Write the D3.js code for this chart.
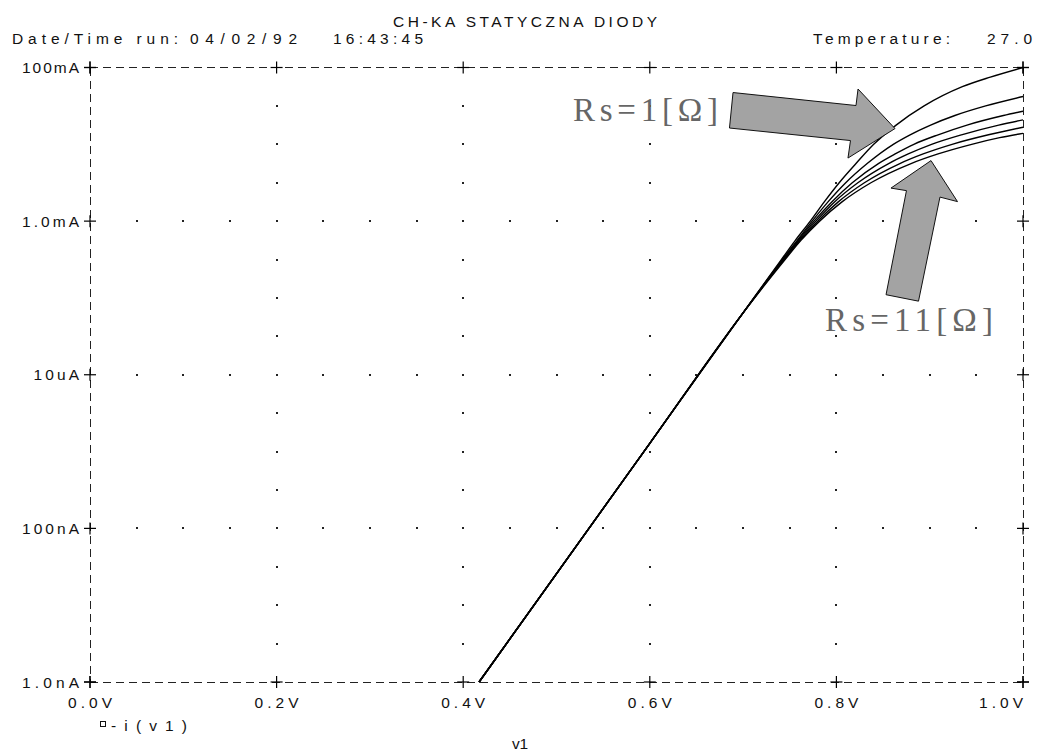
<!DOCTYPE html>
<html>
<head>
<meta charset="utf-8">
<script src="https://cdn.jsdelivr.net/npm/d3@7"></script>
<style>
  html, body { margin: 0; padding: 0; background: #fff; }
  svg { display: block; }
  .plot-text { font-family: "Liberation Sans", "DejaVu Sans", sans-serif; font-size: 15.5px; fill: #111; }
  .note-text { font-family: "Liberation Serif", "DejaVu Serif", serif; font-size: 33px; fill: #666; }
</style>
</head>
<body>
<svg id="chart" width="1039" height="751"></svg>
<script>
// ---- sweep data: diode current vs. source voltage for several series resistances ----
const xTicks = [0.0, 0.2, 0.4, 0.6, 0.8, 1.0];
const xTickLabels = ["0.0V", "0.2V", "0.4V", "0.6V", "0.8V", "1.0V"];
const yTicks = [1e-9, 1e-7, 1e-5, 1e-3, 1e-1];
const yTickLabels = ["1.0nA", "100nA", "10uA", "1.0mA", "100mA"];

// common exponential region (all curves overlap here)
const sweepLow = [[0.417, 1.0e-9], [0.600, 1.28e-6], [0.700, 6.4e-5]];

// high-current region, one list per series resistance [V, A]
const rs1 = [[0.741, 3.16e-4], [0.756, 5.62e-4], [0.772, 1.00e-3], [0.787, 1.78e-3], [0.803, 3.16e-3],
             [0.821, 5.62e-3], [0.840, 1.00e-2], [0.864, 1.78e-2], [0.894, 3.16e-2], [0.935, 5.62e-2],
             [0.965, 7.5e-2], [1.000, 1.00e-1]];
const rs3 = [[0.742, 3.16e-4], [0.758, 5.62e-4], [0.774, 1.00e-3], [0.791, 1.78e-3], [0.810, 3.16e-3],
             [0.833, 5.62e-3], [0.861, 1.00e-2], [0.879, 1.33e-2], [0.901, 1.78e-2], [0.927, 2.37e-2],
             [0.960, 3.16e-2], [1.000, 4.19e-2]];
const rs5 = [[0.743, 3.16e-4], [0.759, 5.62e-4], [0.776, 1.00e-3], [0.795, 1.78e-3], [0.817, 3.16e-3],
             [0.845, 5.62e-3], [0.863, 7.5e-3], [0.883, 1.00e-2], [0.909, 1.33e-2], [0.940, 1.78e-2],
             [0.979, 2.37e-2], [1.000, 2.70e-2]];
const rs7 = [[0.743, 3.16e-4], [0.760, 5.62e-4], [0.778, 1.00e-3], [0.798, 1.78e-3], [0.823, 3.16e-3],
             [0.856, 5.62e-3], [0.877, 7.5e-3], [0.902, 1.00e-2], [0.934, 1.33e-2], [0.974, 1.78e-2],
             [1.000, 2.08e-2]];
const rs9 = [[0.744, 3.16e-4], [0.761, 5.62e-4], [0.780, 1.00e-3], [0.802, 1.78e-3], [0.830, 3.16e-3],
             [0.868, 5.62e-3], [0.893, 7.5e-3], [0.924, 1.00e-2], [0.963, 1.33e-2], [1.000, 1.67e-2]];
const rs11 = [[0.745, 3.16e-4], [0.762, 5.62e-4], [0.782, 1.00e-3], [0.806, 1.78e-3], [0.837, 3.16e-3],
              [0.880, 5.62e-3], [0.909, 7.5e-3], [0.945, 1.00e-2], [0.975, 1.22e-2], [1.000, 1.39e-2]];
const seriesList = [rs1, rs3, rs5, rs7, rs9, rs11];

// annotation arrows, vertices in [V, log10(A)]
const arrowRs1 = [[0.6892, -1.326], [0.8210, -1.495], [0.8232, -1.280], [0.8628, -1.795],
                  [0.8124, -2.179], [0.8151, -1.951], [0.6854, -1.788]];
const arrowRs11 = [[0.9014, -2.212], [0.9298, -2.746], [0.9110, -2.687], [0.8880, -4.042],
                   [0.8532, -3.958], [0.8751, -2.603], [0.8585, -2.570]];

// ---- layout ----
const svg = d3.select("#chart");
const plotL = 90, plotR = 1023, plotT = 67.5, plotB = 682;
const x = d3.scaleLinear().domain([0, 1]).range([plotL, plotR]);
const y = d3.scaleLog().domain([1e-9, 1e-1]).range([plotB, plotT]);

// dotted grid: vertical lines dotted every half decade, horizontal lines every 0.05 V
const grid = svg.append("g").attr("fill", "#222");
const halfDecades = d3.range(-9, -0.9, 0.5).map(e => Math.pow(10, e)).filter(v => v > 1.01e-9 && v < 0.099);
xTicks.slice(1, -1).forEach(v => {
  halfDecades.forEach(a => {
    grid.append("rect").attr("x", Math.round(x(v)) - 1).attr("y", Math.round(y(a)) - 1)
      .attr("width", 2).attr("height", 2);
  });
});
const stepsV = d3.range(0.05, 0.999, 0.05);
yTicks.slice(1, -1).forEach(a => {
  stepsV.forEach(v => {
    grid.append("rect").attr("x", Math.round(x(v)) - 1).attr("y", Math.round(y(a)) - 1)
      .attr("width", 2).attr("height", 2);
  });
});

// dashed frame
const frame = svg.append("g").attr("stroke", "#222").attr("stroke-width", 1)
  .attr("stroke-dasharray", "8,5").attr("fill", "none").attr("shape-rendering", "crispEdges");
frame.append("line").attr("x1", plotL).attr("x2", plotR).attr("y1", plotT).attr("y2", plotT);
frame.append("line").attr("x1", plotL).attr("x2", plotR).attr("y1", plotB).attr("y2", plotB);
frame.append("line").attr("x1", plotL).attr("x2", plotL).attr("y1", plotT).attr("y2", plotB);
frame.append("line").attr("x1", plotR).attr("x2", plotR).attr("y1", plotT).attr("y2", plotB);

// cross-shaped tick marks
const ticks = svg.append("g").attr("stroke", "#000").attr("stroke-width", 1.2);
function cross(cx, cy) {
  ticks.append("line").attr("x1", cx - 6).attr("x2", cx + 6).attr("y1", cy).attr("y2", cy);
  ticks.append("line").attr("x1", cx).attr("x2", cx).attr("y1", cy - 6).attr("y2", cy + 6);
}
xTicks.forEach(v => { cross(x(v), plotT); cross(x(v), plotB); });
yTicks.forEach(a => { cross(plotL, y(a)); cross(plotR, y(a)); });

// axis labels
const txt = svg.append("g").attr("class", "plot-text");
function label(str, tx, ty, width, anchor) {
  const t = txt.append("text").attr("x", tx).attr("y", ty).text(str)
    .attr("text-anchor", anchor || "start");
  if (width) t.attr("textLength", width).attr("lengthAdjust", "spacing");
  return t;
}
xTicks.forEach((v, i) => {
  const last = i === xTicks.length - 1;
  label(xTickLabels[i], last ? plotR : x(v), 708, 44, last ? "end" : "middle");
});
yTicks.forEach((a, i) => {
  const s = yTickLabels[i];
  label(s, 79, y(a) + 5.5, s.length * 11.4, "end");
});

// header texts
label("CH-KA STATYCZNA DIODY", 393, 27, 264);
label("Date/Time run:", 12, 44, 166);
label("04/02/92", 190, 44, 107);
label("16:43:45", 333, 44, 90);
label("Temperature:", 813, 44, 137);
label("27.0", 987, 44, 45);

// legend and x-axis title
svg.append("rect").attr("x", 100.5).attr("y", 721.5).attr("width", 5).attr("height", 5)
  .attr("fill", "none").attr("stroke", "#111").attr("stroke-width", 1);
label("-i(v1)", 111, 731, 76);
label("v1", 512, 749, 16);

// diode curves
const line = d3.line().x(d => x(d[0])).y(d => y(d[1])).curve(d3.curveMonotoneX);
svg.append("g").attr("fill", "none").attr("stroke", "#000").attr("stroke-width", 1.4)
  .selectAll("path").data(seriesList).join("path")
  .attr("d", s => line(sweepLow.concat(s)));

// annotation arrows and labels
const arrowPath = pts => "M" + pts.map(p => [x(p[0]), y(Math.pow(10, p[1]))].join(",")).join("L") + "Z";
svg.append("g").attr("fill", "#a3a3a3").attr("stroke", "#111").attr("stroke-width", 1)
  .selectAll("path").data([arrowRs1, arrowRs11]).join("path").attr("d", arrowPath);

svg.append("text").attr("class", "note-text").attr("x", x(0.5177)).attr("y", y(Math.pow(10, -1.70)))
  .attr("textLength", 145).attr("lengthAdjust", "spacing").text("Rs=1[Ω]");
svg.append("text").attr("class", "note-text").attr("x", x(0.7878)).attr("y", y(Math.pow(10, -4.427)))
  .attr("textLength", 168).attr("lengthAdjust", "spacing").text("Rs=11[Ω]");
</script>
</body>
</html>
